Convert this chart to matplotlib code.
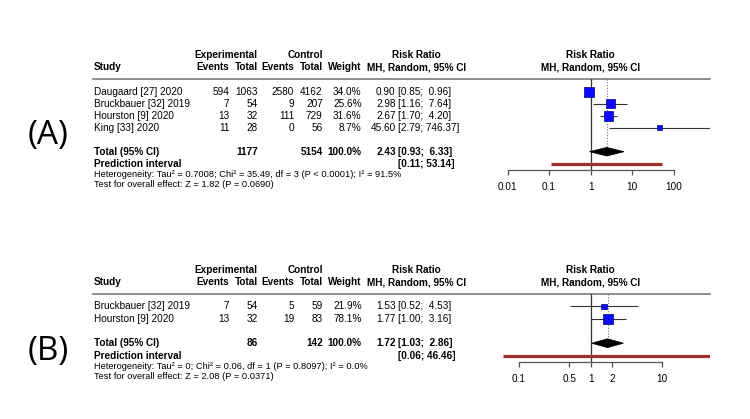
import numpy as np
import matplotlib.pyplot as plt
from matplotlib.patches import Polygon
from matplotlib.ticker import NullLocator

plt.rcParams['font.family'] = ['Liberation Sans', 'DejaVu Sans']

# ---- panel A data
studies_a = ["Daugaard [27] 2020", "Bruckbauer [32] 2019", "Hourston [9] 2020", "King [33] 2020"]
exp_events_a = [594, 7, 13, 11]
exp_total_a = [1063, 54, 32, 28]
ctrl_events_a = [2580, 9, 111, 0]
ctrl_total_a = [4162, 207, 729, 56]
weight_a = [34.0, 25.6, 31.6, 8.7]
rr_a = [0.90, 2.98, 2.67, 45.60]
lo_a = [0.85, 1.16, 1.70, 2.79]
hi_a = [0.96, 7.64, 4.20, 746.37]
pooled_a = [2.43, 0.93, 6.33]
pred_a = [0.11, 53.14]
het_a = "Heterogeneity: Tau² = 0.7008; Chi² = 35.49, df = 3 (P < 0.0001); I² = 91.5%"
test_a = "Test for overall effect: Z = 1.82 (P = 0.0690)"
ticks_a = [0.01, 0.1, 1, 10, 100]
ticklabels_a = ["0.01", "0.1", "1", "10", "100"]

# ---- panel B data
studies_b = ["Bruckbauer [32] 2019", "Hourston [9] 2020"]
exp_events_b = [7, 13]
exp_total_b = [54, 32]
ctrl_events_b = [5, 19]
ctrl_total_b = [59, 83]
weight_b = [21.9, 78.1]
rr_b = [1.53, 1.77]
lo_b = [0.52, 1.00]
hi_b = [4.53, 3.16]
pooled_b = [1.72, 1.03, 2.86]
pred_b = [0.06, 46.46]
het_b = "Heterogeneity: Tau² = 0; Chi² = 0.06, df = 1 (P = 0.8097); I² = 0.0%"
test_b = "Test for overall effect: Z = 2.08 (P = 0.0371)"
ticks_b = [0.1, 0.5, 1, 2, 10]
ticklabels_b = ["0.1", "0.5", "1", "2", "10"]

W, H = 750, 419
fig = plt.figure(figsize=(7.5, 4.19), dpi=100)
bg = fig.add_axes([0, 0, 1, 1])
bg.set_xlim(0, W)
bg.set_ylim(H, 0)
bg.axis('off')

FS = 7.2
FS_SMALL = 6.7
# column anchors (pixels)
X_STUDY, X_EE, X_ET, X_CE, X_CT, X_W, X_RR, X_CI, X_RRH = 94, 229.5, 257.7, 294.3, 322.7, 361.7, 395.7, 398.5, 416.5
X_ONE, X_RIGHT = 590.7, 710


def ci_text(lo, hi):
    return f"[{lo:.2f}; {hi:5.2f}]"


def panel(studies, ee, et, ce, ct, w, rr, lo, hi, pooled, pred, het, test,
          ticks, ticklabels, h1, row0, step, axis_px, left_px, px_dec, tag, tag_y):
    h2 = h1 + 12
    line_y = h2 + 12
    txt = dict(fontsize=FS, va='center')
    bold = dict(fontsize=FS, va='center', fontweight='bold')

    # headers
    bg.text(X_ET, h1, "Experimental", ha='right', **bold)
    bg.text(X_CT, h1, "Control", ha='right', **bold)
    bg.text(X_RRH, h1, "Risk Ratio", ha='center', **bold)
    bg.text(X_ONE, h1, "Risk Ratio", ha='center', **bold)
    bg.text(X_STUDY, h2, "Study", ha='left', **bold)
    for x, s in [(X_EE, "Events"), (X_ET, "Total"), (X_CE, "Events"), (X_CT, "Total"), (X_W, "Weight")]:
        bg.text(x, h2, s, ha='right', **bold)
    bg.text(X_RRH, h2, "MH, Random, 95% CI", ha='center', **bold)
    bg.text(X_ONE, h2, "MH, Random, 95% CI", ha='center', **bold)
    bg.plot([93, X_RIGHT], [line_y, line_y], color='#7a7a7a', lw=1.2)

    n = len(studies)
    rows = np.arange(n)
    tot_row = n + 1
    pred_row = n + 2
    ry = lambda r: row0 + step * r

    for i in range(n):
        y = ry(i)
        bg.text(X_STUDY, y, studies[i], ha='left', **txt)
        bg.text(X_EE, y, str(ee[i]), ha='right', **txt)
        bg.text(X_ET, y, str(et[i]), ha='right', **txt)
        bg.text(X_CE, y, str(ce[i]), ha='right', **txt)
        bg.text(X_CT, y, str(ct[i]), ha='right', **txt)
        bg.text(X_W, y, f"{w[i]:.1f}%", ha='right', **txt)
        bg.text(X_RR, y, f"{rr[i]:.2f}", ha='right', **txt)
        bg.text(X_CI, y, ci_text(lo[i], hi[i]), ha='left', **txt)

    y = ry(tot_row)
    bg.text(X_STUDY, y, "Total (95% CI)", ha='left', **bold)
    bg.text(X_ET, y, str(sum(et)), ha='right', **bold)
    bg.text(X_CT, y, str(sum(ct)), ha='right', **bold)
    bg.text(X_W, y, "100.0%", ha='right', **bold)
    bg.text(X_RR, y, f"{pooled[0]:.2f}", ha='right', **bold)
    bg.text(X_CI, y, ci_text(pooled[1], pooled[2]), ha='left', **bold)
    y = ry(pred_row)
    bg.text(X_STUDY, y, "Prediction interval", ha='left', **bold)
    bg.text(X_CI, y, ci_text(pred[0], pred[1]), ha='left', **bold)
    bg.text(X_STUDY, y + 10.5, het, ha='left', va='center', fontsize=FS_SMALL)
    bg.text(X_STUDY, y + 20.5, test, ha='left', va='center', fontsize=FS_SMALL)

    bg.text(48, tag_y, tag, ha='center', va='center', fontsize=24, family='Open Sans')

    # forest area
    ax = fig.add_axes([left_px / W, 1 - axis_px / H, (X_RIGHT - left_px) / W, (axis_px - line_y) / H])
    ax.set_xscale('log')
    ax.set_xlim(10 ** ((left_px - X_ONE) / px_dec), 10 ** ((X_RIGHT - X_ONE) / px_dec))
    top = (line_y - row0) / step
    ax.set_ylim((axis_px - row0) / step, top)
    ax.patch.set_alpha(0)
    for s in ['left', 'top', 'right']:
        ax.spines[s].set_visible(False)
    ax.spines['bottom'].set_bounds(ticks[0], ticks[-1])
    ax.spines['bottom'].set_color('#555555')
    ax.spines['bottom'].set_linewidth(0.9)
    ax.set_yticks([])
    ax.set_xticks(ticks)
    ax.set_xticklabels(ticklabels)
    ax.xaxis.set_minor_locator(NullLocator())
    ax.tick_params(axis='x', direction='out', length=3.6, width=0.9, color='#555555',
                   labelsize=FS, pad=5)

    ax.axvline(1, color='#333333', lw=0.9, zorder=1)
    dh = 0.36
    ax.vlines(pooled[0], top, tot_row - dh, colors='#777777', lw=0.8,
              linestyles=(0, (1, 1.5)), zorder=1)
    ax.hlines(rows, lo, hi, colors='#333333', lw=0.8, zorder=2)
    sizes = (10 * 0.72 * np.sqrt(np.array(w) / max(w))) ** 2
    ax.scatter(rr, rows, s=sizes, marker='s', c='#0a0aff', edgecolors='#000080',
               linewidths=0.5, zorder=3)
    ax.add_patch(Polygon([[pooled[1], tot_row], [pooled[0], tot_row - dh],
                          [pooled[2], tot_row], [pooled[0], tot_row + dh]],
                         closed=True, fc='black', ec='black', lw=0.5, zorder=3))
    ax.hlines(pred_row, pred[0], pred[1], colors='#a52a2a', lw=2.3, zorder=3)
    return ax


panel(studies_a, exp_events_a, exp_total_a, ctrl_events_a, ctrl_total_a, weight_a,
      rr_a, lo_a, hi_a, pooled_a, pred_a, het_a, test_a, ticks_a, ticklabels_a,
      h1=55, row0=91.7, step=12, axis_px=170, left_px=495, px_dec=41.6, tag="(A)", tag_y=135)
panel(studies_b, exp_events_b, exp_total_b, ctrl_events_b, ctrl_total_b, weight_b,
      rr_b, lo_b, hi_b, pooled_b, pred_b, het_b, test_b, ticks_b, ticklabels_b,
      h1=270, row0=306.3, step=12.3, axis_px=361.7, left_px=503, px_dec=71.6, tag="(B)", tag_y=351)

fig.savefig("out.png", dpi=100)
